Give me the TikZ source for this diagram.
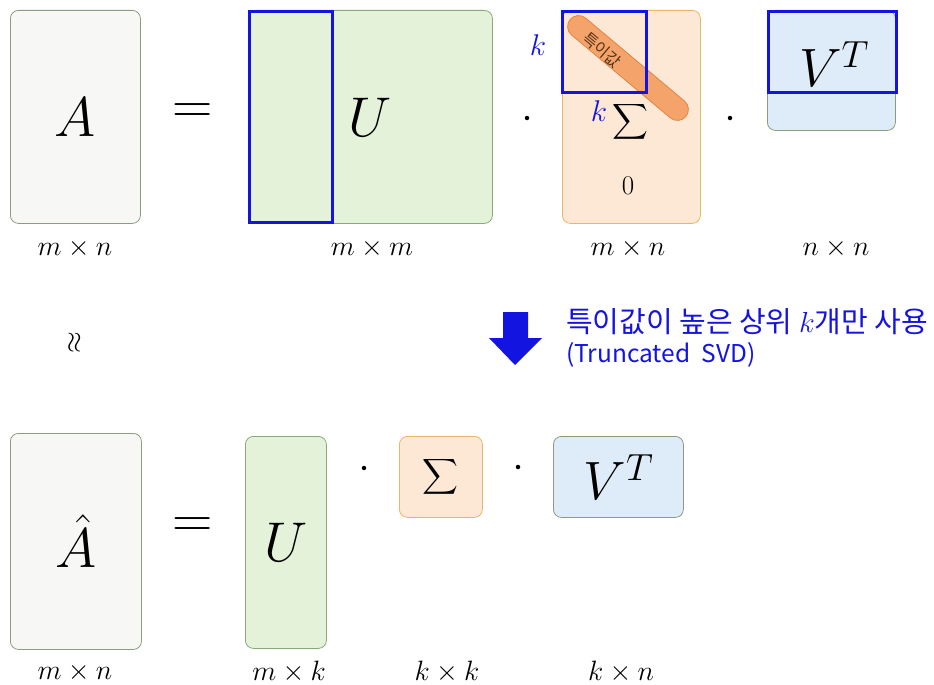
\RequirePackage{fix-cm}
\documentclass[tikz,border=0pt]{standalone}
\usepackage{amsmath}
\usepackage{fontspec}
\newfontfamily\krfont{Noto Sans CJK KR}

\definecolor{svblue}{RGB}{20,20,225}
\definecolor{afill}{RGB}{247,248,245}
\definecolor{aline}{RGB}{140,156,126}
\definecolor{ufill}{RGB}{228,242,217}
\definecolor{uline}{RGB}{138,168,120}
\definecolor{sfill}{RGB}{253,232,214}
\definecolor{sline}{RGB}{228,184,104}
\definecolor{vfill}{RGB}{222,235,248}
\definecolor{pfill}{RGB}{244,164,106}
\definecolor{pline}{RGB}{224,132,70}

\tikzset{
    sv mat/.style={draw=aline, line width=0.8pt, rounded corners=8pt,
                   inner sep=0pt, anchor=north west,
                   font=\fontsize{56}{60}\selectfont},
    sv a/.style={sv mat, fill=afill},
    sv u/.style={sv mat, fill=ufill, draw=uline},
    sv s/.style={sv mat, fill=sfill, draw=sline},
    sv v/.style={sv mat, fill=vfill},
    sv keep/.style={draw=svblue, line width=3pt, inner sep=0pt,
                    anchor=north west},
    sv dim/.style={font=\fontsize{28}{30}\selectfont},
    sv dot/.style={circle, fill=black, inner sep=0pt, minimum size=4.5pt},
    sv k/.style={text=svblue, font=\fontsize{30}{32}\selectfont},
    sv note/.style={text=svblue, anchor=west, inner sep=0pt,
                    font=\krfont\fontsize{25}{28}\selectfont},
}

\begin{document}
\begin{tikzpicture}[x=1pt, y=-1pt]
    \useasboundingbox (0,0) rectangle (934,685);
    % full SVD
    \node[sv a, minimum width=130pt, minimum height=213pt] (a) at (10,10) {$A$};
    \node[font=\fontsize{56}{60}\selectfont] (eq1) at (193,114) {$=$};
    \node[sv u, minimum width=244pt, minimum height=213pt] (u) at (248,10) {$U$};
    \node[sv keep, minimum width=83pt, minimum height=211pt] (ukeep) at (248,10) {};
    \node[sv dot] (dot1) at (527,118) {};
    \node[sv s, minimum width=138pt, minimum height=213pt] (s) at (562,10) {};
    \node[rounded corners=11pt, fill=pfill, draw=pline, line width=0.8pt,
          minimum width=151pt, minimum height=22pt, rotate=-40] (pill) at (628,68) {};
    \node[text=black!60!pline, rotate=-40, font=\krfont\fontsize{16}{18}\selectfont]
          (pilltext) at (602,50) {특이값};
    \node[sv keep, minimum width=84pt, minimum height=81pt] (skeep) at (561,10) {};
    \node[sv k] (k1) at (538,45) {$k$};
    \node[sv k] (k2) at (599,111) {$k$};
    \node[font=\fontsize{38}{42}\selectfont] (sig) at (630,122) {$\displaystyle\sum$};
    \node[font=\fontsize{27}{30}\selectfont] (zero) at (628,186) {$0$};
    \node[sv dot] (dot2) at (730,118) {};
    \node[sv v, minimum width=128pt, minimum height=120pt] (v) at (767,10) {};
    \node[sv keep, minimum width=128pt, minimum height=81pt] (vkeep) at (767,10) {};
    \node[font=\fontsize{54}{58}\selectfont] (vt) at (834,64) {$V^T$};
    \node[sv dim] (da) at (75,248) {$m\times n$};
    \node[sv dim] (du) at (372,248) {$m\times m$};
    \node[sv dim] (ds) at (628,248) {$m\times n$};
    \node[sv dim] (dv) at (836,248) {$n\times n$};
    % truncation
    \node[rotate=90, font=\fontsize{28}{30}\selectfont] (approx) at (75,343) {$\approx$};
    \fill[svblue] (503,312) -- (528,312) -- (528,338) -- (542,338)
        -- (515,365) -- (489,338) -- (503,338) -- cycle;
    \node[sv note, font=\krfont\fontsize{29}{31}\selectfont] (note1) at (566,322)
          {특이값이 높은 상위 $k$개만 사용};
    \node[sv note, font=\krfont\fontsize{24.5}{28}\selectfont] (note2) at (566,355)
          {(Truncated\ \ SVD)};
    % truncated SVD
    \node[sv a, minimum width=131pt, minimum height=216pt] (ah) at (10,433) {$\hat{A}$};
    \node[font=\fontsize{56}{60}\selectfont] (eq2) at (193,528) {$=$};
    \node[sv u, minimum width=81pt, minimum height=212pt] (uk) at (245,436) {$U$};
    \node[sv dot] (dot3) at (364,468) {};
    \node[sv s, minimum width=83pt, minimum height=81pt, font=\fontsize{30}{34}\selectfont]
          (sk) at (399,436) {$\displaystyle\sum$};
    \node[sv dot] (dot4) at (518,467) {};
    \node[sv v, minimum width=130pt, minimum height=81pt, font=\fontsize{54}{58}\selectfont]
          (vk) at (553,436) {$V^T$};
    \node[sv dim] (dah) at (75,672) {$m\times n$};
    \node[sv dim] (duk) at (289,672) {$m\times k$};
    \node[sv dim] (dsk) at (447,672) {$k\times k$};
    \node[sv dim] (dvk) at (621,672) {$k\times n$};
\end{tikzpicture}
\end{document}
